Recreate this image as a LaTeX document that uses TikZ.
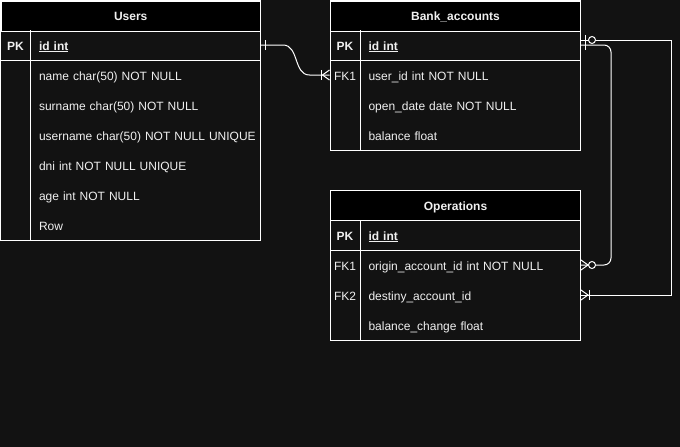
\documentclass[tikz,border=0pt]{standalone}
\usepackage{fontspec}
\setmainfont{Liberation Sans}
\usetikzlibrary{calc}
\definecolor{canvas}{HTML}{121212}
\definecolor{ink}{HTML}{F0F0F0}
\newcommand{\erfont}{\fontsize{12}{14}\selectfont}
\begin{document}
\begin{tikzpicture}[x=1pt, y=-1pt, line width=1pt,
  tbl/.style={draw=white, fill=canvas},
  hdr/.style={draw=white, fill=black, text=ink, font=\erfont\bfseries, minimum height=30, inner sep=0, anchor=north west, text height=10, text depth=1},
  key/.style={text=ink, font=\erfont, minimum width=30, minimum height=30, inner sep=0, text height=10.5, text depth=0.5},
  fld/.style={text=ink, font=\erfont, anchor=west, minimum height=30, inner sep=0, align=left, text height=10.5, text depth=0.5},
  link/.style={draw=white, line width=1pt},
  hole/.style={draw=white, fill=canvas, line width=1pt}]
\useasboundingbox[fill=canvas] (0,0) rectangle (680,447);

% Users
\draw[tbl] (0.5,0.5) rectangle (260,240);
\node[hdr, minimum width=259.5] (users) at (0.5,0.5) {Users};
\draw[link] (0.5,60) -- (260,60);
\draw[link] (30.5,30) -- (30.5,240);
\node[key, font=\erfont\bfseries] (upk) at (15.5,45) {PK};
\node[fld, text width=221.5] (uid) at (38.5,45) {\textbf{\underline{id int}}};
\node[fld, text width=221.5] (uname) at (38.5,75) {name char(50) NOT NULL};
\node[fld, text width=221.5] (usurname) at (38.5,105) {surname char(50) NOT NULL};
\node[fld, text width=221.5] (uusername) at (38.5,135) {username char(50) NOT NULL UNIQUE};
\node[fld, text width=221.5] (udni) at (38.5,165) {dni int NOT NULL UNIQUE};
\node[fld, text width=221.5] (uage) at (38.5,195) {age int NOT NULL};
\node[fld, text width=221.5] (urow) at (38.5,225) {Row};

% Bank_accounts
\draw[tbl] (330,0.5) rectangle (580,150);
\node[hdr, minimum width=250] (bank) at (330,0.5) {Bank\_accounts};
\draw[link] (330,60) -- (580,60);
\draw[link] (360,30) -- (360,150);
\node[key, font=\erfont\bfseries] (bpk) at (345,45) {PK};
\node[fld, text width=212] (bid) at (368,45) {\textbf{\underline{id int}}};
\node[key] (bfk) at (345,75) {FK1};
\node[fld, text width=212] (buser) at (368,75) {user\_id int NOT NULL};
\node[fld, text width=212] (bdate) at (368,105) {open\_date date NOT NULL};
\node[fld, text width=212] (bbalance) at (368,135) {balance float};

% Operations
\draw[tbl] (330,190) rectangle (580,340);
\node[hdr, minimum width=250] (ops) at (330,190) {Operations};
\draw[link] (330,250) -- (580,250);
\draw[link] (360,220) -- (360,340);
\node[key, font=\erfont\bfseries] (opk) at (345,235) {PK};
\node[fld, text width=212] (oid) at (368,235) {\textbf{\underline{id int}}};
\node[key] (ofk1) at (345,265) {FK1};
\node[fld, text width=212] (oorg) at (368,265) {origin\_account\_id int NOT NULL};
\node[key] (ofk2) at (345,295) {FK2};
\node[fld, text width=212] (odst) at (368,295) {destiny\_account\_id};
\node[fld, text width=212] (obalance) at (368,325) {balance\_change float};

% relations
\draw[link] (uid.east) -- ++(22,0) .. controls +(16,0) and +(-16,0) .. ($(bfk.west)+(-20,0)$) -- (bfk.west);
\draw[link] ($(bid.east)+(0,-5)$) -| ($(odst.east)+(90,0)$) -- (odst.east);
\draw[link, rounded corners=7] (bid.east) -| ($(oorg.east)+(30,0)$) -- (oorg.east);

% ends
\draw[link] ($(uid.east)+(4,-5)$) -- ++(0,10);
\draw[link] ($(bfk.west)+(0,-5)$) -- ($(bfk.west)+(-7,0)$) -- ($(bfk.west)+(0,5)$);
\draw[link] ($(bfk.west)+(-8,-5)$) -- ++(0,10);

\draw[link] ($(bid.east)+(4,-10)$) -- ++(0,10);
\draw[link] ($(bid.east)+(4,-0)$) -- ++(0,5);
\draw[hole] ($(bid.east)+(11,-5)$) circle[radius=3.5];

\draw[link] ($(oorg.east)+(0,-5)$) -- ($(oorg.east)+(7,0)$) -- ($(oorg.east)+(0,5)$);
\draw[hole] ($(oorg.east)+(11,0)$) circle[radius=3.5];

\draw[link] ($(odst.east)+(0,-5)$) -- ($(odst.east)+(7,0)$) -- ($(odst.east)+(0,5)$);
\draw[link] ($(odst.east)+(8,-5)$) -- ++(0,10);
\end{tikzpicture}
\end{document}
